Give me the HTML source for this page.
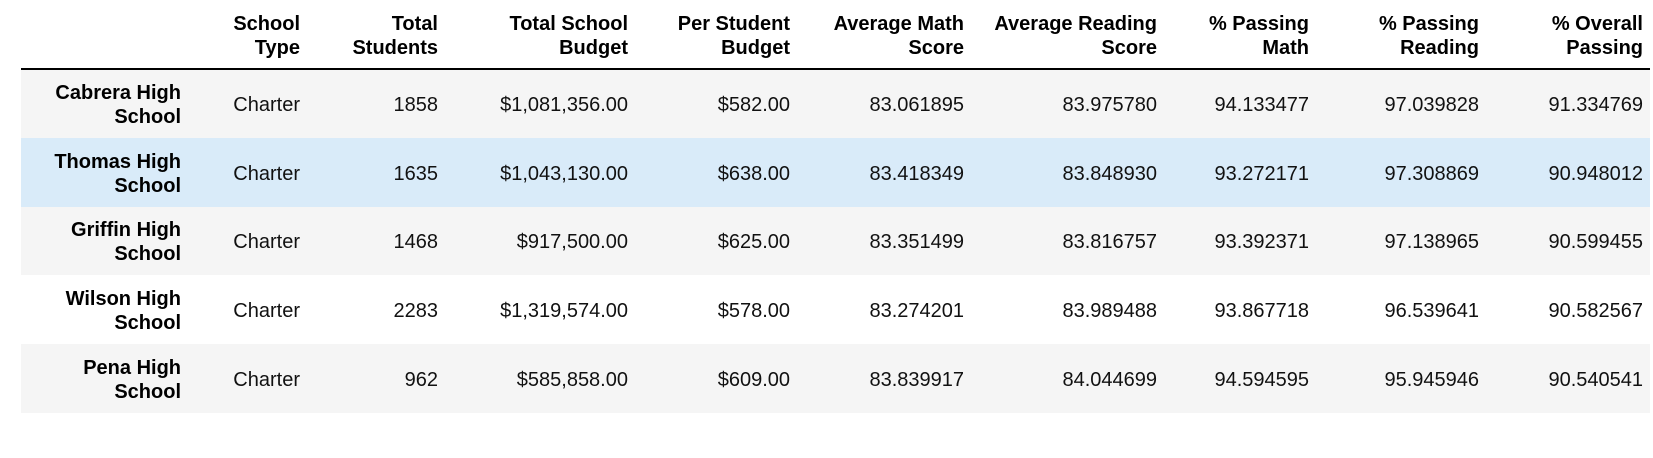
<!DOCTYPE html>
<html><head><meta charset="utf-8">
<style>
html,body{margin:0;padding:0;background:#fff;width:1653px;height:458px;overflow:hidden}
table{position:absolute;left:21px;top:0;border-collapse:collapse;table-layout:fixed;font-family:"Liberation Sans",Arial,sans-serif;font-size:20px;color:#000}
th,td{text-align:right;padding:0 7px 0 0;line-height:24px;white-space:normal}
thead th{height:69px;vertical-align:bottom;padding-bottom:8px;box-sizing:border-box;border-bottom:2px solid #000;font-weight:bold}
tbody tr{height:68.8px}
tbody th,tbody td{padding-top:3px}
tbody th{font-weight:bold;vertical-align:middle}
tbody td{vertical-align:middle;color:#111}
tbody tr:nth-child(odd){background:#f5f5f5}
tbody tr.hl{background:#d9ebf9}
</style></head><body>
<table>
<colgroup><col style="width:167px"><col style="width:119px"><col style="width:138px"><col style="width:190px"><col style="width:162px"><col style="width:174px"><col style="width:193px"><col style="width:152px"><col style="width:170px"><col style="width:164px"></colgroup>
<thead><tr>
<th></th>
<th>School<br>Type</th>
<th>Total<br>Students</th>
<th>Total School<br>Budget</th>
<th>Per Student<br>Budget</th>
<th>Average Math<br>Score</th>
<th>Average Reading<br>Score</th>
<th>% Passing<br>Math</th>
<th>% Passing<br>Reading</th>
<th>% Overall<br>Passing</th>
</tr></thead>
<tbody>
<tr><th>Cabrera High<br>School</th><td>Charter</td><td>1858</td><td>$1,081,356.00</td><td>$582.00</td><td>83.061895</td><td>83.975780</td><td>94.133477</td><td>97.039828</td><td>91.334769</td></tr>
<tr class="hl"><th>Thomas High<br>School</th><td>Charter</td><td>1635</td><td>$1,043,130.00</td><td>$638.00</td><td>83.418349</td><td>83.848930</td><td>93.272171</td><td>97.308869</td><td>90.948012</td></tr>
<tr><th>Griffin High<br>School</th><td>Charter</td><td>1468</td><td>$917,500.00</td><td>$625.00</td><td>83.351499</td><td>83.816757</td><td>93.392371</td><td>97.138965</td><td>90.599455</td></tr>
<tr><th>Wilson High<br>School</th><td>Charter</td><td>2283</td><td>$1,319,574.00</td><td>$578.00</td><td>83.274201</td><td>83.989488</td><td>93.867718</td><td>96.539641</td><td>90.582567</td></tr>
<tr><th>Pena High<br>School</th><td>Charter</td><td>962</td><td>$585,858.00</td><td>$609.00</td><td>83.839917</td><td>84.044699</td><td>94.594595</td><td>95.945946</td><td>90.540541</td></tr>
</tbody></table>
</body></html>
